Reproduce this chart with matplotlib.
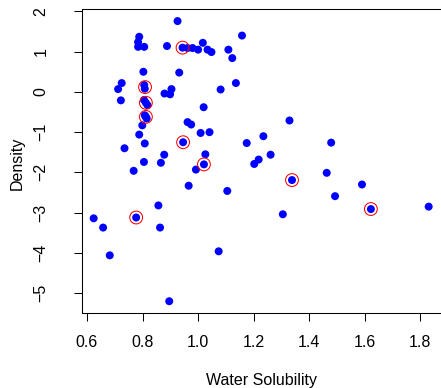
#!/usr/bin/env python3

import matplotlib
matplotlib.use("Agg")
import matplotlib.pyplot as plt

# water solubility vs density
solubility = [0.926, 0.788, 0.784, 0.784, 0.806, 0.888, 0.944, 0.962, 0.980, 1.000,
              1.017, 1.034, 1.048, 1.109, 1.158, 1.123, 0.803, 0.932, 0.725, 0.712,
              0.806, 0.808, 0.722, 0.879, 0.904, 0.899, 1.081, 1.136, 0.805, 0.812,
              0.818, 0.808, 0.812, 0.815, 0.799, 0.788, 0.808, 1.020, 0.962, 0.975,
              1.009, 1.041, 0.946, 0.735, 0.878, 1.026, 1.021, 0.992, 0.805, 0.866,
              0.768, 0.966, 1.105, 1.175, 1.202, 1.218, 1.235, 1.261, 1.329, 1.338,
              1.479, 1.463, 1.590, 1.493, 0.624, 0.658, 0.682, 0.777, 0.857, 0.863,
              1.074, 0.896, 1.305, 1.622, 1.830]
density = [1.76, 1.37, 1.24, 1.12, 1.12, 1.14, 1.10, 1.09, 1.09, 1.05,
           1.22, 1.05, 0.99, 1.05, 1.40, 0.84, 0.50, 0.48, 0.22, 0.07,
           0.17, 0.08, -0.21, -0.04, 0.07, -0.06, 0.06, 0.22, -0.20, -0.27,
           -0.33, -0.58, -0.62, -0.66, -0.83, -1.06, -1.28, -0.38, -0.75, -0.81,
           -1.02, -1.00, -1.25, -1.40, -1.56, -1.55, -1.80, -1.93, -1.74, -1.76,
           -1.96, -2.33, -2.46, -1.27, -1.79, -1.68, -1.10, -1.56, -0.71, -2.19,
           -1.26, -2.01, -2.30, -2.59, -3.14, -3.37, -4.06, -3.12, -2.82, -3.37,
           -3.96, -5.20, -3.04, -2.91, -2.85]

# highlighted points (red rings)
ring_solubility = [0.944, 0.809, 0.812, 0.812, 0.946, 1.021, 1.338, 0.777, 1.622]
ring_density = [1.10, 0.12, -0.27, -0.62, -1.25, -1.80, -2.19, -3.12, -2.91]

xticks = [0.6, 0.8, 1.0, 1.2, 1.4, 1.6, 1.8]
yticks = [-5, -4, -3, -2, -1, 0, 1, 2]

plt.rcParams['font.family'] = ['Liberation Sans', 'DejaVu Sans']

fig = plt.figure(figsize=(4.41, 3.88), dpi=100)
ax = fig.add_axes([82/441, 1 - 312.5/388, 360/441, 303.5/388])

ax.scatter(solubility, density, s=33, color='#0000ff', edgecolors='none', zorder=2)
ax.scatter(ring_solubility, ring_density, s=85, facecolors='none',
           edgecolors='#ff0000', linewidths=0.75, zorder=3)

ax.set_xlim(0.582, 1.878)
ax.set_ylim(-5.48, 2.06)
ax.set_xticks(xticks)
ax.set_xticklabels(["{0:.1f}".format(t) for t in xticks])
ax.set_yticks(yticks)
ax.set_yticklabels(["\u2212{0:d}".format(-t) if t < 0 else str(t) for t in yticks],
                   rotation=90, va='center')

ax.tick_params(direction='out', length=5.5, width=0.75, labelsize=11.5)
ax.tick_params(axis='x', pad=10.5)
ax.tick_params(axis='y', pad=18.5)
for side in ax.spines.values():
    side.set_linewidth(0.75)

ax.set_xlabel("Water Solubility", fontsize=11.5, va='center')
ax.xaxis.set_label_coords(0.5, (312.5 - 380) / 303.5)
ax.set_ylabel("Density", fontsize=11.5, va='center')
ax.yaxis.set_label_coords((17.5 - 82) / 360, 0.49)

fig.savefig("out.png", dpi=100)
